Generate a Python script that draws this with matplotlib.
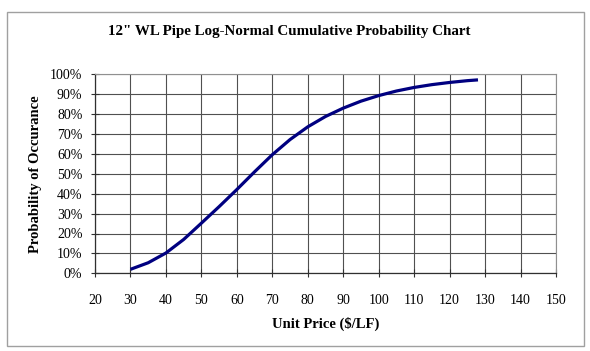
import matplotlib
matplotlib.use('Agg')
import matplotlib.pyplot as plt
from matplotlib.patches import Rectangle
from matplotlib.ticker import FuncFormatter

plt.rcParams['font.family'] = ['Liberation Serif', 'DejaVu Serif']

# values
unit_price = [30, 35, 40, 45, 50, 55, 60, 65, 70, 75, 80, 85, 90, 95,
              100, 105, 110, 115, 120, 125, 128]
probability = [2.0, 5.3, 10.2, 17.0, 25.2, 33.5, 42.1, 51.0, 59.6, 67.2,
               73.6, 78.8, 83.0, 86.5, 89.3, 91.6, 93.4, 94.8, 95.9, 96.8, 97.2]
x_ticks = list(range(20, 151, 10))
y_ticks = [i / 10 for i in range(11)]

fig = plt.figure(figsize=(5.9, 3.51), dpi=100)
# outer chart border
fig.patches.append(Rectangle((7 / 590, 5 / 351), 577 / 590, 334 / 351,
                             transform=fig.transFigure, fill=False,
                             edgecolor='#a0a0a0', linewidth=1))

ax = fig.add_axes([95 / 590, 1 - 273.3 / 351, 461 / 590, 199 / 351])
ax.plot(unit_price, [p / 100 for p in probability], color='#000080', linewidth=2.3,
        solid_capstyle='butt', solid_joinstyle='round', zorder=3)

ax.set_xlim(20, 150)
ax.set_ylim(0, 1)
ax.set_xticks(x_ticks)
ax.set_yticks(y_ticks)
ax.yaxis.set_major_formatter(FuncFormatter(lambda v, _: '%d%%' % round(v * 100)))
ax.grid(True, color='#505050', linewidth=0.8)
ax.tick_params(direction='inout', length=6, width=0.8, color='#303030',
               labelsize=10, pad=6)
ax.tick_params(axis='x', pad=12)
for s in ['left', 'bottom']:
    ax.spines[s].set_color('#303030')
    ax.spines[s].set_linewidth(0.9)
for s in ['top', 'right']:
    ax.spines[s].set_color('#909090')
    ax.spines[s].set_linewidth(0.8)

ax.set_xlabel('Unit Price ($/LF)', fontsize=10.5, fontweight='bold', labelpad=7)
ax.set_ylabel('Probability of Occurance', fontsize=10.5, fontweight='bold', labelpad=6)
fig.text(0.49, 1 - 31 / 351, '12" WL Pipe Log-Normal Cumulative Probability Chart',
         ha='center', va='center', fontsize=10.8, fontweight='bold')

fig.savefig('out.png', dpi=100)
